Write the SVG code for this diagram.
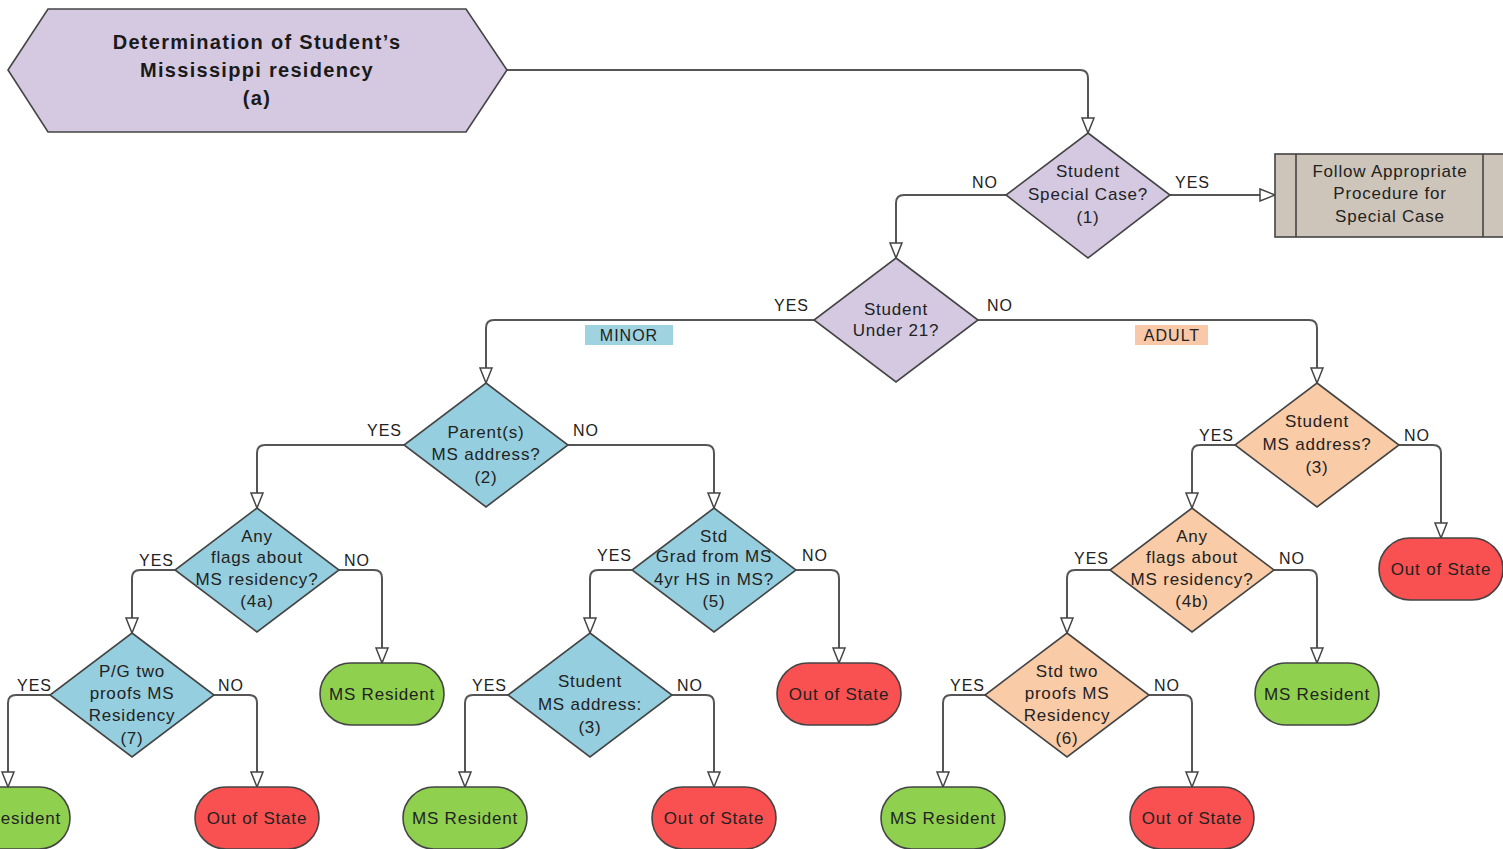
<svg xmlns="http://www.w3.org/2000/svg" width="1503" height="849" viewBox="0 0 1503 849">
  <defs>
    <marker id="arrow" markerUnits="userSpaceOnUse" markerWidth="18" markerHeight="14" refX="16" refY="7" orient="auto" viewBox="0 0 18 14">
      <path d="M1,1 L16,7 L1,13 Z" fill="#ffffff" stroke="#444" stroke-width="1.5" stroke-linejoin="miter"/>
    </marker>
    <style>
      .edge { fill: none; stroke: #555; stroke-width: 2; marker-end: url(#arrow); }
      .shape { stroke: #444; stroke-width: 1.6; }
      .purple { fill: #d4c9e1; }
      .blue { fill: #95cede; }
      .peach { fill: #f9cba7; }
      .grey { fill: #cdc5b9; }
      .green { fill: #8fd14f; }
      .red { fill: #f95151; }
      text { font-family: "Liberation Sans", Arial, sans-serif; fill: #222; }
      .t { font-size: 17px; letter-spacing: 0.8px; text-anchor: middle; }
      .title { font-size: 20px; font-weight: bold; letter-spacing: 1.3px; text-anchor: middle; fill: #1a1a1a; }
      .lbl { font-size: 16px; letter-spacing: 1px; }
      .end { text-anchor: end; }
      .mid { text-anchor: middle; }
    </style>
  </defs>

  <rect width="1503" height="849" fill="#ffffff"/>

  <!-- connectors -->
  <g id="connectors">
    <path class="edge" d="M507,70 H1080 Q1088,70 1088,78 V133"/>
    <path class="edge" d="M1170,195 H1275"/>
    <path class="edge" d="M1006,195 H904 Q896,195 896,203 V258"/>
    <path class="edge" d="M814,320 H494 Q486,320 486,328 V383"/>
    <path class="edge" d="M978,320 H1309 Q1317,320 1317,328 V383"/>
    <path class="edge" d="M404,445 H265 Q257,445 257,453 V508"/>
    <path class="edge" d="M568,445 H706 Q714,445 714,453 V508"/>
    <path class="edge" d="M175,570 H140 Q132,570 132,578 V633"/>
    <path class="edge" d="M339,570 H374 Q382,570 382,578 V663"/>
    <path class="edge" d="M50,695 H16 Q8,695 8,703 V787"/>
    <path class="edge" d="M214,695 H249 Q257,695 257,703 V787"/>
    <path class="edge" d="M632,570 H598 Q590,570 590,578 V633"/>
    <path class="edge" d="M796,570 H831 Q839,570 839,578 V663"/>
    <path class="edge" d="M508,695 H473 Q465,695 465,703 V787"/>
    <path class="edge" d="M672,695 H706 Q714,695 714,703 V787"/>
    <path class="edge" d="M1235,445 H1200 Q1192,445 1192,453 V508"/>
    <path class="edge" d="M1399,445 H1433 Q1441,445 1441,453 V538"/>
    <path class="edge" d="M1110,570 H1075 Q1067,570 1067,578 V633"/>
    <path class="edge" d="M1274,570 H1309 Q1317,570 1317,578 V663"/>
    <path class="edge" d="M985,695 H951 Q943,695 943,703 V787"/>
    <path class="edge" d="M1149,695 H1184 Q1192,695 1192,703 V787"/>

    <!-- branch labels -->
    <text class="lbl end" x="998" y="188">NO</text>
    <text class="lbl" x="1175" y="188">YES</text>
    <text class="lbl end" x="809" y="311">YES</text>
    <text class="lbl" x="987" y="311">NO</text>
    <text class="lbl end" x="402" y="436">YES</text>
    <text class="lbl" x="573" y="436">NO</text>
    <text class="lbl end" x="174" y="566">YES</text>
    <text class="lbl" x="344" y="566">NO</text>
    <text class="lbl end" x="52" y="691">YES</text>
    <text class="lbl" x="218" y="691">NO</text>
    <text class="lbl end" x="632" y="561">YES</text>
    <text class="lbl" x="802" y="561">NO</text>
    <text class="lbl end" x="507" y="691">YES</text>
    <text class="lbl" x="677" y="691">NO</text>
    <text class="lbl end" x="1234" y="441">YES</text>
    <text class="lbl" x="1404" y="441">NO</text>
    <text class="lbl end" x="1109" y="564">YES</text>
    <text class="lbl" x="1279" y="564">NO</text>
    <text class="lbl end" x="985" y="691">YES</text>
    <text class="lbl" x="1154" y="691">NO</text>

    <!-- group tags -->
    <rect x="585" y="325" width="88" height="20" fill="#9fd3e0"/>
    <text class="lbl mid" x="629" y="341">MINOR</text>
    <rect x="1135" y="325" width="73" height="20" fill="#f9c8a8"/>
    <text class="lbl mid" x="1172" y="341">ADULT</text>
  </g>

  <!-- start -->
  <g id="start">
    <polygon class="shape purple" points="8,70 48,9 466,9 507,70 466,132 48,132"/>
    <text class="title" x="257" y="49">Determination of Student’s</text>
    <text class="title" x="257" y="77">Mississippi residency</text>
    <text class="title" x="257" y="105">(a)</text>
  </g>

  <!-- decision 1 -->
  <g id="special-case">
    <polygon class="shape purple" points="1088,133 1170,195 1088,258 1006,195"/>
    <text class="t" x="1088" y="177">Student</text>
    <text class="t" x="1088" y="200">Special Case?</text>
    <text class="t" x="1088" y="223">(1)</text>
  </g>

  <g id="special-procedure">
    <rect class="shape grey" x="1275" y="154" width="240" height="83"/>
    <line x1="1296" y1="154" x2="1296" y2="237" stroke="#444" stroke-width="1.6"/>
    <line x1="1483" y1="154" x2="1483" y2="237" stroke="#444" stroke-width="1.6"/>
    <text class="t" x="1390" y="177">Follow Appropriate</text>
    <text class="t" x="1390" y="199">Procedure for</text>
    <text class="t" x="1390" y="222">Special Case</text>
  </g>

  <g id="under-21">
    <polygon class="shape purple" points="896,258 978,320 896,382 814,320"/>
    <text class="t" x="896" y="315">Student</text>
    <text class="t" x="896" y="336">Under 21?</text>
  </g>

  <!-- minor branch -->
  <g id="parent-address">
    <polygon class="shape blue" points="486,383 568,445 486,507 404,445"/>
    <text class="t" x="486" y="438">Parent(s)</text>
    <text class="t" x="486" y="460">MS address?</text>
    <text class="t" x="486" y="483">(2)</text>
  </g>

  <g id="flags-4a">
    <polygon class="shape blue" points="257,508 339,570 257,632 175,570"/>
    <text class="t" x="257" y="542">Any</text>
    <text class="t" x="257" y="563">flags about</text>
    <text class="t" x="257" y="585">MS residency?</text>
    <text class="t" x="257" y="607">(4a)</text>
  </g>

  <g id="proofs-7">
    <polygon class="shape blue" points="132,633 214,695 132,757 50,695"/>
    <text class="t" x="132" y="677">P/G two</text>
    <text class="t" x="132" y="699">proofs MS</text>
    <text class="t" x="132" y="721">Residency</text>
    <text class="t" x="132" y="744">(7)</text>
  </g>

  <g id="resident-7">
    <rect class="shape green" x="-54" y="787" width="124" height="62" rx="31"/>
    <text class="t" x="8" y="824">MS Resident</text>
  </g>

  <g id="out-7">
    <rect class="shape red" x="195" y="787" width="124" height="62" rx="31"/>
    <text class="t" x="257" y="824">Out of State</text>
  </g>

  <g id="resident-4a">
    <rect class="shape green" x="320" y="663" width="124" height="62" rx="31"/>
    <text class="t" x="382" y="700">MS Resident</text>
  </g>

  <g id="grad-5">
    <polygon class="shape blue" points="714,508 796,570 714,632 632,570"/>
    <text class="t" x="714" y="542">Std</text>
    <text class="t" x="714" y="562">Grad from MS</text>
    <text class="t" x="714" y="585">4yr HS in MS?</text>
    <text class="t" x="714" y="607">(5)</text>
  </g>

  <g id="out-5">
    <rect class="shape red" x="777" y="663" width="124" height="62" rx="31"/>
    <text class="t" x="839" y="700">Out of State</text>
  </g>

  <g id="student-address-minor">
    <polygon class="shape blue" points="590,633 672,695 590,757 508,695"/>
    <text class="t" x="590" y="687">Student</text>
    <text class="t" x="590" y="710">MS address:</text>
    <text class="t" x="590" y="733">(3)</text>
  </g>

  <g id="resident-3m">
    <rect class="shape green" x="403" y="787" width="124" height="62" rx="31"/>
    <text class="t" x="465" y="824">MS Resident</text>
  </g>

  <g id="out-3m">
    <rect class="shape red" x="652" y="787" width="124" height="62" rx="31"/>
    <text class="t" x="714" y="824">Out of State</text>
  </g>

  <!-- adult branch -->
  <g id="student-address-adult">
    <polygon class="shape peach" points="1317,383 1399,445 1317,507 1235,445"/>
    <text class="t" x="1317" y="427">Student</text>
    <text class="t" x="1317" y="450">MS address?</text>
    <text class="t" x="1317" y="473">(3)</text>
  </g>

  <g id="out-3a">
    <rect class="shape red" x="1379" y="538" width="124" height="62" rx="31"/>
    <text class="t" x="1441" y="575">Out of State</text>
  </g>

  <g id="flags-4b">
    <polygon class="shape peach" points="1192,508 1274,570 1192,632 1110,570"/>
    <text class="t" x="1192" y="542">Any</text>
    <text class="t" x="1192" y="563">flags about</text>
    <text class="t" x="1192" y="585">MS residency?</text>
    <text class="t" x="1192" y="607">(4b)</text>
  </g>

  <g id="resident-4b">
    <rect class="shape green" x="1255" y="663" width="124" height="62" rx="31"/>
    <text class="t" x="1317" y="700">MS Resident</text>
  </g>

  <g id="proofs-6">
    <polygon class="shape peach" points="1067,633 1149,695 1067,757 985,695"/>
    <text class="t" x="1067" y="677">Std two</text>
    <text class="t" x="1067" y="699">proofs MS</text>
    <text class="t" x="1067" y="721">Residency</text>
    <text class="t" x="1067" y="744">(6)</text>
  </g>

  <g id="resident-6">
    <rect class="shape green" x="881" y="787" width="124" height="62" rx="31"/>
    <text class="t" x="943" y="824">MS Resident</text>
  </g>

  <g id="out-6">
    <rect class="shape red" x="1130" y="787" width="124" height="62" rx="31"/>
    <text class="t" x="1192" y="824">Out of State</text>
  </g>
</svg>
